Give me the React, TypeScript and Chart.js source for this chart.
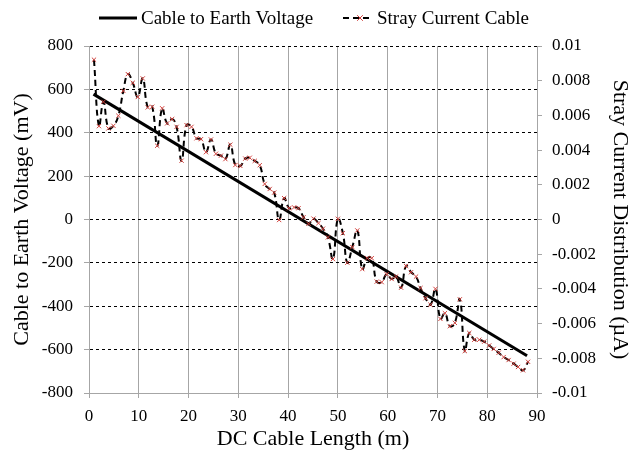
import React, { useEffect, useRef } from "react";
import { Chart, registerables } from "chart.js";

Chart.register(...registerables);

// Cable length positions (m) of the stray current samples
const strayLength = [
  1.0, 2.0, 2.9, 3.9, 4.9, 5.9, 6.9, 7.8, 8.8, 9.8,
  10.8, 11.8, 12.7, 13.7, 14.7, 15.7, 16.7, 17.6, 18.6, 19.6,
  20.6, 21.6, 22.5, 23.5, 24.5, 25.5, 26.5, 27.4, 28.4, 29.4,
  30.4, 31.4, 32.3, 33.3, 34.3, 35.3, 36.3, 37.2, 38.2, 39.2,
  40.2, 41.2, 42.1, 43.1, 44.1, 45.1, 46.1, 47.0, 48.0, 49.0,
  50.0, 51.0, 51.9, 52.9, 53.9, 54.9, 55.9, 56.8, 57.8, 58.8,
  59.8, 60.8, 61.7, 62.7, 63.7, 64.7, 65.7, 66.6, 67.6, 68.6,
  69.6, 70.6, 71.5, 72.5, 73.5, 74.5, 75.5, 76.4, 77.4, 78.4,
  79.4, 80.4, 81.3, 82.3, 83.3, 84.3, 85.3, 86.2, 87.2, 88.2,
];

// Stray current distribution (µA)
const strayCurrent = [
  0.00921, 0.00538, 0.00678, 0.00525, 0.0054, 0.00598, 0.00741, 0.00838, 0.00788, 0.00706,
  0.00813, 0.00646, 0.0065, 0.00425, 0.00641, 0.00554, 0.00579, 0.00534, 0.00339, 0.00544,
  0.00534, 0.00468, 0.00463, 0.00388, 0.00461, 0.00379, 0.00368, 0.00348, 0.00431, 0.00314,
  0.00309, 0.00351, 0.00356, 0.00338, 0.00313, 0.00205, 0.00176, 0.00155, -0.00003, 0.00123,
  0.00065, 0.0007, 0.00065, 0.00013, -0.00025, 0.00005, -0.00021, -0.00053, -0.00103, -0.00228,
  0.00004, -0.00079, -0.00249, -0.00159, -0.00063, -0.00286, -0.00223, -0.00223, -0.00358, -0.00361,
  -0.00315, -0.00343, -0.00329, -0.00393, -0.00268, -0.00304, -0.00329, -0.00395, -0.00454, -0.00491,
  -0.004, -0.00573, -0.0054, -0.00615, -0.00596, -0.0046, -0.00758, -0.00654, -0.00693, -0.00693,
  -0.00704, -0.00726, -0.00746, -0.00768, -0.00793, -0.0081, -0.00831, -0.0085, -0.00869, -0.0082,
];

// Cable to earth voltage (mV)
const voltageLength = [0.9, 88.0];
const voltageValues = [578, -628];

const seriesNames = ["Cable to Earth Voltage", "Stray Current Cable"];
const xTitle = "DC Cable Length (m)";
const yTitle = "Cable to Earth Voltage (mV)";
const y2Title = "Stray Current Distribution (µA)";

const FONT = "'Liberation Serif', 'Times New Roman', serif";
const MARKER = "#d0403c";
const AXIS_GRAY = "#a6a6a6";

const legendPlugin = {
  id: "customLegend",
  afterDraw(chart: any) {
    const ctx = chart.ctx as CanvasRenderingContext2D;
    ctx.save();
    const y = 18;
    ctx.font = `19px ${FONT}`;
    ctx.fillStyle = "#000";
    ctx.textBaseline = "middle";
    ctx.textAlign = "left";
    // solid line item
    ctx.strokeStyle = "#000";
    ctx.lineWidth = 3;
    ctx.setLineDash([]);
    ctx.beginPath();
    ctx.moveTo(99, y);
    ctx.lineTo(137, y);
    ctx.stroke();
    ctx.fillText(seriesNames[0], 141, y + 1);
    // dashed + marker item
    ctx.lineWidth = 2;
    ctx.setLineDash([6, 4]);
    ctx.beginPath();
    ctx.moveTo(343, y);
    ctx.lineTo(373, y);
    ctx.stroke();
    ctx.setLineDash([]);
    ctx.strokeStyle = MARKER;
    ctx.lineWidth = 1;
    const mx = 360, r = 2.8;
    ctx.beginPath();
    ctx.moveTo(mx - r, y - r);
    ctx.lineTo(mx + r, y + r);
    ctx.moveTo(mx + r, y - r);
    ctx.lineTo(mx - r, y + r);
    ctx.stroke();
    ctx.fillText(seriesNames[1], 377, y + 1);
    ctx.restore();
  },
};

export default function App() {
  const ref = useRef<HTMLCanvasElement | null>(null);

  useEffect(() => {
    if (!ref.current) return;
    const chart = new Chart(ref.current, {
      type: "line",
      data: {
        datasets: [
          {
            label: seriesNames[1],
            data: strayLength.map((x, i) => ({ x, y: strayCurrent[i] })),
            yAxisID: "y2",
            borderColor: "#000",
            borderWidth: 2,
            borderDash: [6, 4],
            tension: 0.45,
            pointStyle: "crossRot",
            pointRadius: 3,
            pointBorderColor: MARKER,
            pointBackgroundColor: MARKER,
            pointBorderWidth: 1,
            fill: false,
            order: 0,
          },
          {
            label: seriesNames[0],
            data: voltageLength.map((x, i) => ({ x, y: voltageValues[i] })),
            yAxisID: "y",
            borderColor: "#000",
            borderWidth: 3,
            pointRadius: 0,
            tension: 0,
            fill: false,
            order: 1,
          },
        ],
      },
      options: {
        responsive: false,
        animation: false,
        devicePixelRatio: 1,
        layout: { padding: { top: 46, left: 0, right: 0, bottom: 0 } },
        plugins: {
          legend: { display: false },
          tooltip: { enabled: false },
          title: { display: false },
        },
        scales: {
          x: {
            type: "linear",
            min: 0,
            max: 90,
            ticks: { stepSize: 10, color: "#000", font: { family: FONT, size: 17 }, padding: 8, maxRotation: 0 },
            grid: { color: AXIS_GRAY, lineWidth: 1, tickLength: 5, tickColor: AXIS_GRAY },
            border: { color: AXIS_GRAY, width: 1 },
            title: { display: true, text: xTitle, color: "#000", font: { family: FONT, size: 22 }, padding: { top: 0, bottom: 0 } },
            afterFit: (s: any) => { s.height = 59; },
          },
          y: {
            type: "linear",
            position: "left",
            min: -800,
            max: 800,
            ticks: { stepSize: 200, color: "#000", font: { family: FONT, size: 17 }, padding: 11 },
            grid: {
              color: (c: any) => (c.tick && c.tick.value === -800 ? "rgba(0,0,0,0)" : "#000"),
              lineWidth: 1,
              tickLength: 5,
              tickColor: AXIS_GRAY,
              tickBorderDash: [],
            },
            border: { color: AXIS_GRAY, width: 1, dash: [3, 3] },
            title: { display: true, text: yTitle, color: "#000", font: { family: FONT, size: 22 }, padding: { top: 9, bottom: 0 } },
            afterFit: (s: any) => { s.width = 89; },
          },
          y2: {
            type: "linear",
            position: "right",
            min: -0.01,
            max: 0.01,
            ticks: {
              stepSize: 0.002,
              color: "#000",
              font: { family: FONT, size: 17 },
              padding: 10,
              callback: (v: any) => String(Number(Number(v).toFixed(3))),
            },
            grid: { drawOnChartArea: false, tickLength: 5, tickColor: AXIS_GRAY },
            border: { color: AXIS_GRAY, width: 1 },
            title: { display: true, text: y2Title, color: "#000", font: { family: FONT, size: 22 }, padding: { top: 6, bottom: 0 } },
            afterFit: (s: any) => { s.width = 102; },
          },
        },
      },
      plugins: [legendPlugin],
    });
    return () => chart.destroy();
  }, []);

  return (
    <div style={{ position: "fixed", left: 0, top: 0, width: 639, height: 452, background: "#fff" }}>
      <canvas ref={ref} width={639} height={452} style={{ display: "block", width: 639, height: 452 }} />
    </div>
  );
}
